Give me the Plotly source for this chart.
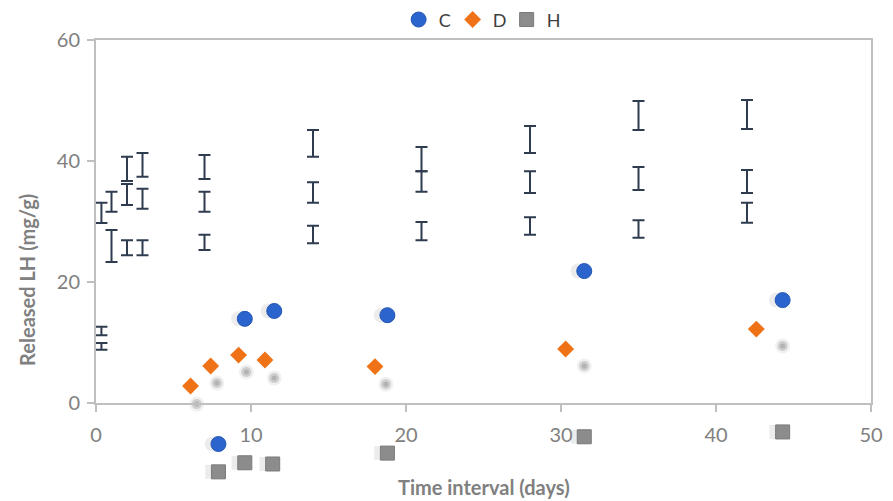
import plotly.graph_objects as go

# ---- data ----
c_x = [9.6, 11.5, 18.8, 31.5, 44.3, 7.9]
c_y = [13.9, 15.2, 14.5, 21.8, 17.0, -6.8]

d_x = [6.1, 7.4, 9.2, 10.9, 18.0, 30.3, 42.6]
d_y = [2.8, 6.1, 7.9, 7.1, 6.0, 8.9, 12.2]

h_x = [7.9, 9.6, 11.4, 18.8, 31.5, 44.3]
h_y = [-11.4, -9.9, -10.1, -8.3, -5.6, -4.8]

# blurred grey points (shadow-like)
g_x = [6.5, 7.8, 9.7, 11.5, 18.7, 31.5, 44.3]
g_y = [-0.2, 3.3, 5.1, 4.1, 3.1, 6.1, 9.4]

# error bars: x, low, high
eb_x = [0.35, 0.35, 0.35, 1, 1, 2, 2, 2, 3, 3, 3, 7, 7, 7,
        14, 14, 14, 21, 21, 21, 28, 28, 28, 35, 35, 35, 42, 42, 42]
eb_low = [29.75, 11.2, 8.8, 31.6, 23.3, 36.7, 32.7, 24.4, 37.4, 32.1, 24.4, 37.0, 31.6, 25.3,
          40.7, 33.1, 26.4, 38.3, 34.9, 26.9, 41.3, 34.7, 27.8, 45.1, 35.2, 27.3, 45.3, 34.7, 29.8]
eb_high = [33.1, 12.6, 9.9, 34.9, 28.6, 40.7, 36.2, 26.9, 41.3, 35.4, 26.9, 41.0, 34.9, 27.8,
           45.1, 36.5, 29.3, 42.3, 38.3, 29.9, 45.8, 38.3, 30.7, 49.9, 39.0, 30.2, 50.1, 38.5, 33.1]

x_ticks = [0, 10, 20, 30, 40, 50]
y_ticks = [0, 20, 40, 60]

X_RANGE = [0, 50]
Y_VISIBLE = [0, 60]
Y_DATA = [-14.4, 60]

eb_mid = [(a + b) / 2 for a, b in zip(eb_low, eb_high)]
eb_err = [(b - a) / 2 for a, b in zip(eb_low, eb_high)]

# domain of the visible (framed) axis inside the full data area
vis_bottom = (Y_VISIBLE[0] - Y_DATA[0]) / (Y_DATA[1] - Y_DATA[0])

fig = go.Figure()

# dummy trace to show the framed axes
fig.add_trace(go.Scatter(x=[None], y=[None], xaxis="x2", yaxis="y2",
                         showlegend=False, hoverinfo="skip"))

# error bars (no visible markers)
fig.add_trace(go.Scatter(
    x=eb_x, y=eb_mid, mode="markers",
    marker=dict(size=1, color="rgba(0,0,0,0)"),
    error_y=dict(type="data", array=eb_err, visible=True,
                 color="#2F3B4F", thickness=2, width=6),
    showlegend=False, hoverinfo="skip"))

# blurred grey dots
fig.add_trace(go.Scatter(
    x=g_x, y=g_y, mode="markers",
    marker=dict(size=15, color="rgba(130,130,130,0.12)", line=dict(width=0)),
    showlegend=False, hoverinfo="skip"))
fig.add_trace(go.Scatter(
    x=g_x, y=g_y, mode="markers",
    marker=dict(size=10, color="rgba(130,130,130,0.30)", line=dict(width=0)),
    showlegend=False, hoverinfo="skip"))
fig.add_trace(go.Scatter(
    x=g_x, y=g_y, mode="markers",
    marker=dict(size=5, color="rgba(130,130,130,0.35)", line=dict(width=0)),
    showlegend=False, hoverinfo="skip"))

# soft shadows for C and H markers
fig.add_trace(go.Scatter(
    x=[v - 0.4 for v in c_x], y=c_y, mode="markers",
    marker=dict(size=15, color="rgba(110,110,110,0.13)", line=dict(width=0)),
    showlegend=False, hoverinfo="skip"))
fig.add_trace(go.Scatter(
    x=[v - 0.4 for v in h_x], y=h_y, mode="markers",
    marker=dict(size=14, symbol="square", color="rgba(110,110,110,0.13)", line=dict(width=0)),
    showlegend=False, hoverinfo="skip"))

fig.add_trace(go.Scatter(
    x=c_x, y=c_y, mode="markers", name="C",
    marker=dict(size=15, color="#2B64CC", line=dict(width=1, color="#2456B5"))))
fig.add_trace(go.Scatter(
    x=d_x, y=d_y, mode="markers", name="D",
    marker=dict(size=13, symbol="diamond", color="#F07216", line=dict(width=0))))
fig.add_trace(go.Scatter(
    x=h_x, y=h_y, mode="markers", name="H",
    marker=dict(size=14, symbol="square", color="#8C8C8C", line=dict(width=1, color="#7A7A7A"))))

axis_style = dict(showgrid=False, zeroline=False,
                  showline=True, linecolor="#BFBFBF", linewidth=2, mirror=True,
                  ticks="outside", ticklen=7, tickcolor="#BFBFBF", tickwidth=2,
                  tickfont=dict(size=20, color="#808080"), automargin=False)

fig.update_layout(
    width=885, height=493,
    margin=dict(l=88, r=22, t=32, b=11),
    paper_bgcolor="white", plot_bgcolor="rgba(0,0,0,0)",
    font=dict(family="Lato, 'Open Sans', sans-serif", color="#808080"),
    showlegend=True,
    legend=dict(orientation="h", x=0.495, xanchor="center",
                yref="container", y=0.976, yanchor="middle",
                font=dict(size=18, color="#404040"), itemwidth=30,
                entrywidth=9, entrywidthmode="pixels",
                bgcolor="rgba(0,0,0,0)"),
    # hidden data axes
    xaxis=dict(range=X_RANGE, visible=False, automargin=False),
    yaxis=dict(range=Y_DATA, visible=False, automargin=False, domain=[0, 1]),
    # visible framed axes
    xaxis2=dict(range=X_RANGE, anchor="y2", overlaying="x",
                tickvals=x_ticks, ticktext=[str(v) for v in x_ticks],
                ticklabelstandoff=6, **axis_style),
    yaxis2=dict(range=Y_VISIBLE, anchor="x2", domain=[vis_bottom, 1],
                tickvals=y_ticks, ticktext=[str(v) for v in y_ticks],
                ticklabelstandoff=3, **axis_style),
    annotations=[
        dict(text="<b>Time interval (days)</b>", xref="paper", yref="paper",
             x=0.5, y=0.006, xanchor="center", yanchor="middle", showarrow=False,
             font=dict(size=20, color="#808080")),
        dict(text="<b>Released LH (mg/g)</b>", xref="paper", yref="paper",
             x=-0.089, y=0.467, xanchor="center", yanchor="middle", showarrow=False,
             textangle=-90, font=dict(size=20, color="#808080")),
    ],
)

fig.write_html("out.html")
